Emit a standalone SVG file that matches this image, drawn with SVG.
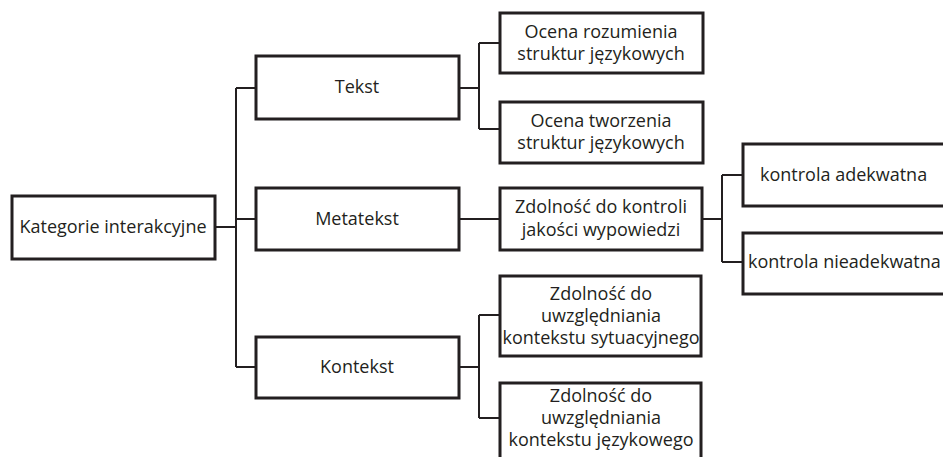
<svg xmlns="http://www.w3.org/2000/svg" width="943" height="457" viewBox="0 0 943 457">
<style>
.box{fill:#fff;stroke:#231f20;stroke-width:3}
.ln{fill:none;stroke:#231f20;stroke-width:2}
text{font-family:"Open Sans","Noto Sans","DejaVu Sans",sans-serif;font-size:18px;fill:#231f20;text-anchor:middle}
.l{text-anchor:start}
</style>
<rect width="943" height="457" fill="#fff"/>
<g id="connectors">
<path class="ln" d="M215 227H236M236 88V367M236 88H256M236 219H256M236 367H256"/>
<path class="ln" d="M459 88H479M479 43V129M479 43H500M479 129H500"/>
<path class="ln" d="M459 219H500"/>
<path class="ln" d="M702 219H722M722 175V262M722 175H743M722 262H743"/>
<path class="ln" d="M459 367H479M479 315V418M479 315H500M479 418H500"/>
</g>
<g id="n-kategorie"><rect class="box" x="12" y="196" width="203" height="63"/><text x="113" y="233">Kategorie interakcyjne</text></g>
<g id="n-tekst"><rect class="box" x="256" y="56" width="203" height="63"/><text x="357" y="93">Tekst</text></g>
<g id="n-metatekst"><rect class="box" x="256" y="188" width="203" height="62"/><text x="357" y="225">Metatekst</text></g>
<g id="n-kontekst"><rect class="box" x="256" y="337" width="203" height="61"/><text x="357" y="373">Kontekst</text></g>
<g id="n-ocena1"><rect class="box" x="500" y="13" width="203" height="60"/><text x="601" y="38">Ocena rozumienia</text><text x="601" y="60">struktur językowych</text></g>
<g id="n-ocena2"><rect class="box" x="500" y="102" width="203" height="61"/><text x="601" y="127">Ocena tworzenia</text><text x="601" y="149">struktur językowych</text></g>
<g id="n-zdolnosc-kontroli"><rect class="box" x="500" y="188" width="202" height="62"/><text x="601" y="213">Zdolność do kontroli</text><text x="601" y="236">jakości wypowiedzi</text></g>
<g id="n-adekwatna"><rect class="box" x="743" y="144" width="210" height="62"/><text class="l" x="760" y="181">kontrola adekwatna</text></g>
<g id="n-nieadekwatna"><rect class="box" x="743" y="233" width="210" height="61"/><text class="l" x="748" y="268">kontrola nieadekwatna</text></g>
<g id="n-sytuacyjny"><rect class="box" x="500" y="276" width="201" height="80"/><text x="601" y="300">Zdolność do</text><text x="601" y="322">uwzględniania</text><text x="601" y="344">kontekstu sytuacyjnego</text></g>
<g id="n-jezykowy"><rect class="box" x="500" y="383" width="201" height="90"/><text x="601" y="402">Zdolność do</text><text x="601" y="424">uwzględniania</text><text x="601" y="446">kontekstu językowego</text></g>
</svg>
